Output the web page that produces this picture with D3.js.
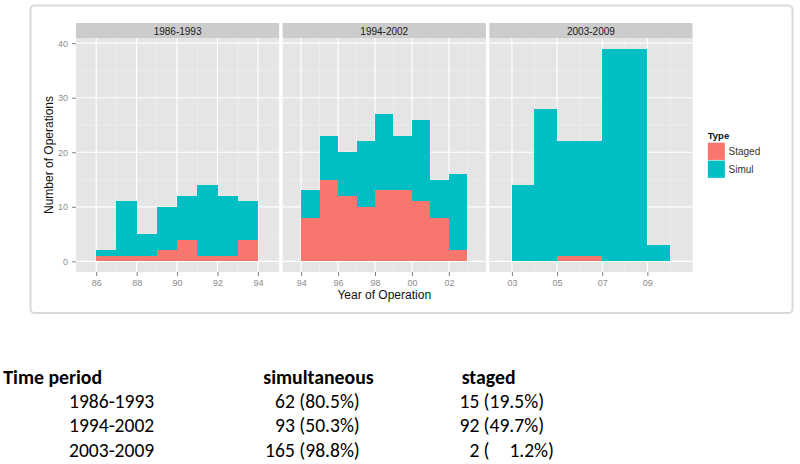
<!DOCTYPE html>
<html><head><meta charset="utf-8">
<script src="https://cdn.jsdelivr.net/npm/d3@7"></script>
<style>html,body{margin:0;padding:0;background:#fff;} svg{display:block;}</style>
</head><body>
<svg id="c" width="800" height="464"></svg>
<script>
// ---------- data ----------
const periods = ["1986-1993", "1994-2002", "2003-2009"];
const years1 = [1986, 1987, 1988, 1989, 1990, 1991, 1992, 1993];
const staged1 = [1, 1, 1, 2, 4, 1, 1, 4];
const simul1 = [1, 10, 4, 8, 8, 13, 11, 7];
const years2 = [1994, 1995, 1996, 1997, 1998, 1999, 2000, 2001, 2002];
const staged2 = [8, 15, 12, 10, 13, 13, 11, 8, 2];
const simul2 = [5, 8, 8, 12, 14, 10, 15, 7, 14];
const years3 = [2003, 2004, 2005, 2006, 2007, 2008, 2009];
const staged3 = [0, 0, 1, 1, 0, 0, 0];
const simul3 = [14, 28, 21, 21, 39, 39, 3];
const xLimits1 = [1985, 1995.05];
const xLimits2 = [1993, 2004];
const xLimits3 = [2002, 2011];
const xTicks1 = [1986, 1988, 1990, 1992, 1994];
const xTicks2 = [1994, 1996, 1998, 2000, 2002];
const xTicks3 = [2003, 2005, 2007, 2009];
const yTicks = [0, 10, 20, 30, 40];
const typeLabels = ["Staged", "Simul"];
const tableHeaders = ["Time period", "simultaneous", "staged"];

// ---------- setup ----------
const svg = d3.select("#c");
const FONT = "'Liberation Sans', Arial, Helvetica, sans-serif";
const TFONT = "Carlito, Calibri, Lato, sans-serif";
const colors = d3.scaleOrdinal().domain(typeLabels).range(["#F8766D", "#00BFC4"]);

// outer frame
svg.append("rect").attr("x", 30.5).attr("y", 5.5).attr("width", 762).attr("height", 307.5)
  .attr("rx", 4).attr("fill", "#fff").attr("stroke", "#D9D9D9").attr("stroke-width", 2);

const panels = [
  {label: periods[0], years: years1, staged: staged1, simul: simul1, lim: xLimits1, ticks: xTicks1},
  {label: periods[1], years: years2, staged: staged2, simul: simul2, lim: xLimits2, ticks: xTicks2},
  {label: periods[2], years: years3, staged: staged3, simul: simul3, lim: xLimits3, ticks: xTicks3}
];

const plotLeft = 76, plotRight = 692.5, gap = 3.5;
const pw = (plotRight - plotLeft - 2 * gap) / 3;
const stripTop = 23, stripH = 15, pTop = 38, pBottom = 272;

const maxTotal = d3.max(panels.flatMap(p => p.years.map((_, i) => p.staged[i] + p.simul[i])));
const yPad = maxTotal * 0.05;
const y = d3.scaleLinear().domain([-yPad, maxTotal + yPad]).range([pBottom, pTop]);

panels.forEach((p, k) => {
  const x0 = plotLeft + k * (pw + gap);
  const x = d3.scaleLinear().domain(p.lim).range([x0, x0 + pw]);
  const g = svg.append("g");
  // background
  g.append("rect").attr("x", x0).attr("y", pTop).attr("width", pw).attr("height", pBottom - pTop).attr("fill", "#E5E5E5");
  // minor grid
  const yMinor = d3.range(5, maxTotal + yPad, 10);
  g.selectAll(".ymn").data(yMinor).join("line")
    .attr("x1", x0).attr("x2", x0 + pw).attr("y1", d => y(d)).attr("y2", d => y(d))
    .attr("stroke", "#F2F2F2").attr("stroke-width", 0.6);
  const xMinor = d3.range(p.ticks[0] - 1, p.lim[1] + 0.001, 2).filter(v => v >= p.lim[0]);
  g.selectAll(".xmn").data(xMinor).join("line")
    .attr("y1", pTop).attr("y2", pBottom).attr("x1", d => x(d)).attr("x2", d => x(d))
    .attr("stroke", "#F2F2F2").attr("stroke-width", 0.6);
  // major grid
  g.selectAll(".ymj").data(yTicks).join("line")
    .attr("x1", x0).attr("x2", x0 + pw).attr("y1", d => y(d)).attr("y2", d => y(d))
    .attr("stroke", "#fff").attr("stroke-width", 1.2);
  g.selectAll(".xmj").data(p.ticks).join("line")
    .attr("y1", pTop).attr("y2", pBottom).attr("x1", d => x(d)).attr("x2", d => x(d))
    .attr("stroke", "#fff").attr("stroke-width", 1.2);
  // bars
  const rows = p.years.map((yr, i) => ({yr, staged: p.staged[i], simul: p.simul[i]}));
  const bars = g.append("g").attr("shape-rendering", "crispEdges");
  bars.selectAll(".bs").data(rows.filter(d => d.staged > 0)).join("rect")
    .attr("x", d => x(d.yr)).attr("width", d => x(d.yr + 1) - x(d.yr))
    .attr("y", d => y(d.staged)).attr("height", d => y(0) - y(d.staged))
    .attr("fill", colors("Staged"));
  bars.selectAll(".bm").data(rows.filter(d => d.simul > 0)).join("rect")
    .attr("x", d => x(d.yr)).attr("width", d => x(d.yr + 1) - x(d.yr))
    .attr("y", d => y(d.staged + d.simul)).attr("height", d => y(d.staged) - y(d.staged + d.simul))
    .attr("fill", colors("Simul"));
  // strip
  g.append("rect").attr("x", x0).attr("y", stripTop).attr("width", pw).attr("height", stripH).attr("fill", "#CCCCCC");
  g.append("text").attr("x", x0 + pw / 2).attr("y", stripTop + stripH / 2 + 0.5)
    .attr("text-anchor", "middle").attr("dominant-baseline", "central")
    .attr("font-family", FONT).attr("font-size", 10).attr("fill", "#1A1A1A").text(p.label);
  // x axis
  const ax = svg.append("g").attr("transform", `translate(0,${pBottom})`)
    .call(d3.axisBottom(x).tickValues(p.ticks).tickSize(4).tickPadding(4)
      .tickFormat(d => String(d % 100).padStart(2, "0")));
  ax.select(".domain").remove();
  ax.selectAll("line").attr("stroke", "#7F7F7F");
  ax.selectAll("text").attr("fill", "#8C8C8C").attr("font-family", FONT).attr("font-size", 9);
  if (k === 0) {
    const ay = svg.append("g").attr("transform", `translate(${x0},0)`)
      .call(d3.axisLeft(y).tickValues(yTicks).tickSize(4).tickPadding(4));
    ay.select(".domain").remove();
    ay.selectAll("line").attr("stroke", "#7F7F7F");
    ay.selectAll("text").attr("fill", "#8C8C8C").attr("font-family", FONT).attr("font-size", 9);
  }
});

// axis titles
svg.append("text").attr("x", (plotLeft + plotRight) / 2).attr("y", 298.5)
  .attr("text-anchor", "middle").attr("font-family", FONT).attr("font-size", 12).attr("fill", "#111")
  .text("Year of Operation");
svg.append("text").attr("transform", `translate(53,${(pTop + pBottom) / 2}) rotate(-90)`)
  .attr("text-anchor", "middle").attr("font-family", FONT).attr("font-size", 12).attr("fill", "#111")
  .text("Number of Operations");

// legend
const lg = svg.append("g").attr("transform", "translate(707.7,0)");
lg.append("text").attr("x", 0).attr("y", 139).attr("font-family", FONT).attr("font-weight", "bold")
  .attr("font-size", 9.5).attr("fill", "#111").text("Type");
typeLabels.forEach((t, i) => {
  lg.append("rect").attr("x", 0).attr("y", 142.3 + i * 17.9).attr("width", 17.4).attr("height", 17.9)
    .attr("fill", colors(t)).attr("stroke", "#fff").attr("stroke-width", 0.5);
  lg.append("text").attr("x", 20.8).attr("y", 142.3 + i * 17.9 + 9).attr("dominant-baseline", "central")
    .attr("font-family", FONT).attr("font-size", 10).attr("fill", "#333").text(t);
});

// ---------- table ----------
function textWidth(text, weight, size) {
  const t = svg.append("text").attr("font-family", TFONT).attr("font-weight", weight)
    .attr("font-size", size).text(text);
  const w = t.node().getComputedTextLength();
  t.remove();
  return w;
}
const boldSize = (100 * 97.7 / textWidth(tableHeaders[0], "bold", 100) +
                  100 * 111.7 / textWidth(tableHeaders[1], "bold", 100)) / 2;
const regSize = 100 * 85.3 / textWidth(periods[0], "normal", 100);
const parenW = textWidth("(", "normal", regSize);
const digitW = textWidth("0", "normal", regSize);

const headerX = [3.3, 263.3, 461.7];
const headerY = 384;
tableHeaders.forEach((h, i) => {
  svg.append("text").attr("x", headerX[i]).attr("y", headerY)
    .attr("font-family", TFONT).attr("font-weight", "bold").attr("font-size", boldSize)
    .attr("fill", "#000").text(h);
});
const rowY = [408.3, 432.3, 456.6];
const pctFmt = d3.format(".1f");
const cols = [
  {get: p => d3.sum(p.simul), other: p => d3.sum(p.staged), numEnd: 294.8, paren: 299.3},
  {get: p => d3.sum(p.staged), other: p => d3.sum(p.simul), numEnd: 479.3, paren: 483.6}
];
panels.forEach((p, r) => {
  const ty = rowY[r];
  svg.append("text").attr("x", 69).attr("y", ty).attr("font-family", TFONT)
    .attr("font-size", regSize).attr("fill", "#000").text(p.label);
  cols.forEach(c => {
    const n = c.get(p), tot = n + c.other(p), pct = 100 * n / tot;
    svg.append("text").attr("x", c.numEnd).attr("y", ty).attr("text-anchor", "end")
      .attr("font-family", TFONT).attr("font-size", regSize).attr("fill", "#000").text(n);
    svg.append("text").attr("x", c.paren).attr("y", ty)
      .attr("font-family", TFONT).attr("font-size", regSize).attr("fill", "#000").text("(");
    svg.append("text").attr("x", c.paren + parenW + (pct < 10 ? 2 * digitW : 0)).attr("y", ty)
      .attr("font-family", TFONT).attr("font-size", regSize).attr("fill", "#000")
      .text(pctFmt(pct) + "%)");
  });
});
</script>
</body></html>
